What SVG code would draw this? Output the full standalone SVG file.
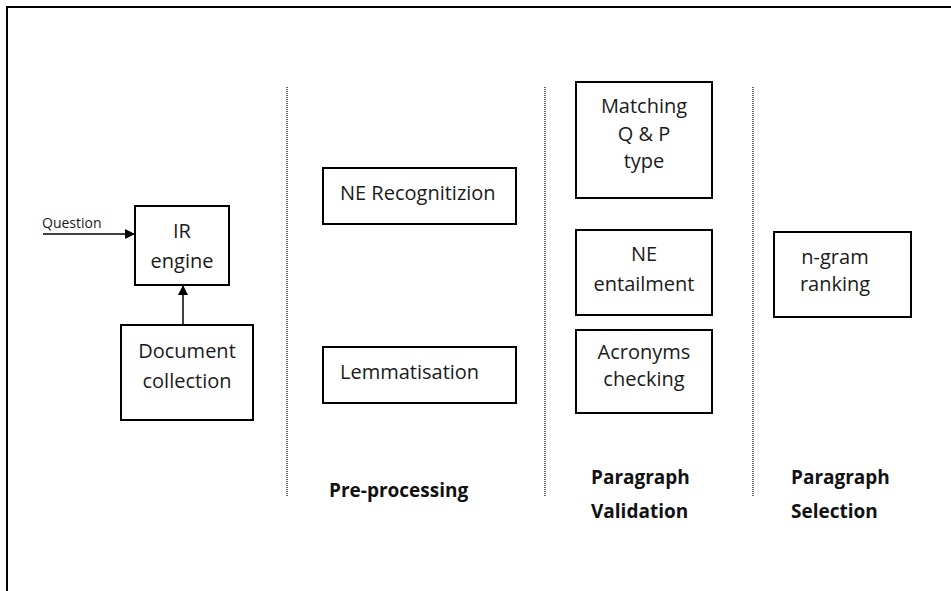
<svg xmlns="http://www.w3.org/2000/svg" width="951" height="591" viewBox="0 0 951 591">
<defs>
<style>
.box{fill:#fff;stroke:#000;stroke-width:2}
.t{font-family:"Open Sans","Liberation Sans",sans-serif;font-size:20px;fill:#1a1a1a;text-anchor:middle}
.tl{font-family:"Open Sans","Liberation Sans",sans-serif;font-size:20px;fill:#1a1a1a}
.b{font-family:"Open Sans","Liberation Sans",sans-serif;font-size:19px;font-weight:bold;fill:#111}
.sep{stroke:#333;stroke-width:1.5;stroke-dasharray:1 1}
.conn{stroke:#000;stroke-width:1.5;fill:none}
</style>
<marker id="arr" markerWidth="10" markerHeight="10" refX="9" refY="5" orient="auto" markerUnits="userSpaceOnUse">
<path d="M0,0 L10,5 L0,10 Z" fill="#000"/>
</marker>
</defs>
<rect width="951" height="591" fill="#fff"/>
<g id="frame">
<path d="M7,591 V7 H951" fill="none" stroke="#000" stroke-width="2"/>
</g>
<g id="separators">
<line class="sep" x1="287" y1="87" x2="287" y2="497"/>
<line class="sep" x1="545" y1="87" x2="545" y2="497"/>
<line class="sep" x1="753" y1="87" x2="753" y2="497"/>
</g>
<g id="connectors">
<line class="conn" x1="43" y1="234" x2="134" y2="234" marker-end="url(#arr)"/>
<line class="conn" x1="183" y1="325" x2="183" y2="286" marker-end="url(#arr)"/>
<text x="42" y="228" font-family="Open Sans, Liberation Sans, sans-serif" font-size="14" fill="#1a1a1a">Question</text>
</g>
<g id="ir-engine">
<rect class="box" x="135" y="206" width="94" height="79"/>
<text class="t" x="182" y="238">IR</text>
<text class="t" x="182" y="268">engine</text>
</g>
<g id="document-collection">
<rect class="box" x="121" y="325" width="132" height="95"/>
<text class="t" x="187" y="358">Document</text>
<text class="t" x="187" y="388">collection</text>
</g>
<g id="ne-recognition">
<rect class="box" x="323" y="168" width="193" height="56"/>
<text class="tl" x="340" y="200">NE Recognitizion</text>
</g>
<g id="lemmatisation">
<rect class="box" x="323" y="347" width="193" height="56"/>
<text class="tl" x="340" y="379">Lemmatisation</text>
</g>
<g id="matching">
<rect class="box" x="576" y="82" width="136" height="116"/>
<text class="t" x="644" y="113">Matching</text>
<text class="t" x="644" y="141">Q &amp; P</text>
<text class="t" x="644" y="168">type</text>
</g>
<g id="ne-entailment">
<rect class="box" x="576" y="230" width="136" height="85"/>
<text class="t" x="644" y="261">NE</text>
<text class="t" x="644" y="291">entailment</text>
</g>
<g id="acronyms">
<rect class="box" x="576" y="330" width="136" height="83"/>
<text class="t" x="644" y="359">Acronyms</text>
<text class="t" x="644" y="386">checking</text>
</g>
<g id="ngram">
<rect class="box" x="774" y="232" width="137" height="85"/>
<text class="t" x="835" y="264">n-gram</text>
<text class="t" x="835" y="291">ranking</text>
</g>
<g id="labels">
<text class="b" x="329" y="497">Pre-processing</text>
<text class="b" x="591" y="484">Paragraph</text>
<text class="b" x="591" y="518">Validation</text>
<text class="b" x="791" y="484">Paragraph</text>
<text class="b" x="791" y="518">Selection</text>
</g>
</svg>
